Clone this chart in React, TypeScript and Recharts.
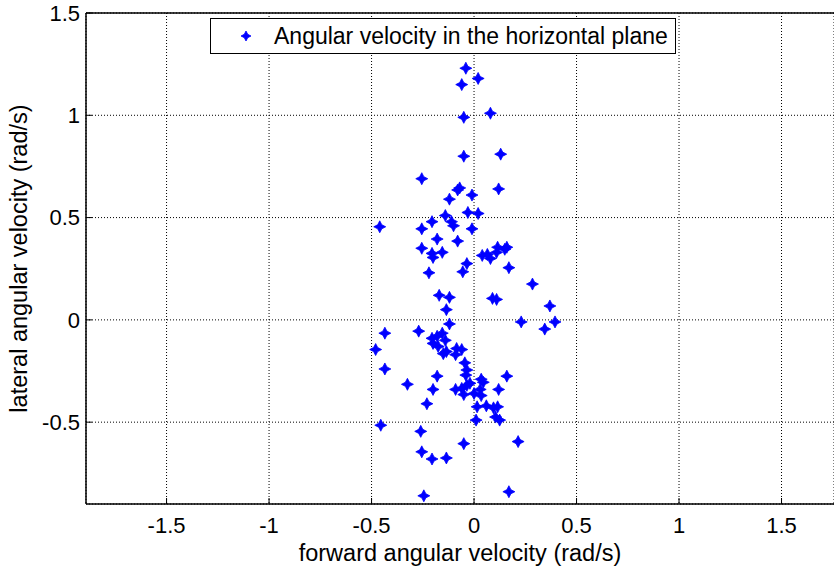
import React from 'react';
import { ScatterChart, Scatter, XAxis, YAxis, CartesianGrid, Legend } from 'recharts';

const seriesName = 'Angular velocity in the horizontal plane';

// forward angular velocity (rad/s)
const forwardVel = [
  -0.04, 0.02, -0.06, 0.08, -0.05, -0.05, 0.13, -0.255, -0.07, -0.08,
  -0.12, -0.01, 0.12, -0.03, 0.02, -0.14, -0.11, -0.205, -0.46, -0.255,
  -0.1, -0.01, -0.18, -0.08, -0.255, -0.205, -0.2, -0.155, -0.035, -0.055,
  -0.22, 0.04, 0.065, 0.08, 0.115, 0.16, 0.11, 0.15, 0.17, 0.285,
  -0.17, -0.12, 0.09, 0.11, 0.37, -0.135, 0.23, 0.395, 0.345, -0.12,
  -0.435, -0.27, -0.48, -0.205, -0.18, -0.155, -0.14, -0.2, -0.175, -0.135,
  -0.15, -0.085, -0.06, -0.09, -0.045, -0.035, -0.04, -0.435, -0.18, -0.325,
  -0.2, -0.23, -0.09, -0.06, -0.05, -0.035, 0.035, 0.045, 0.0, 0.03,
  0.035, 0.16, 0.12, 0.015, 0.06, 0.095, 0.115, 0.105, 0.125, 0.01,
  -0.455, -0.26, -0.05, 0.215, -0.255, -0.205, -0.135, -0.245, 0.17, -0.02,
];

// lateral angular velocity (rad/s)
const lateralVel = [
  1.23, 1.18, 1.15, 1.01, 0.99, 0.8, 0.81, 0.69, 0.645, 0.635,
  0.59, 0.61, 0.64, 0.525, 0.52, 0.51, 0.48, 0.48, 0.455, 0.445,
  0.46, 0.445, 0.395, 0.385, 0.35, 0.325, 0.305, 0.33, 0.275, 0.235,
  0.23, 0.315, 0.32, 0.3, 0.355, 0.355, 0.33, 0.345, 0.255, 0.175,
  0.12, 0.11, 0.105, 0.1, 0.068, 0.05, -0.01, -0.01, -0.045, -0.02,
  -0.065, -0.055, -0.145, -0.09, -0.08, -0.065, -0.1, -0.115, -0.13, -0.155,
  -0.165, -0.14, -0.145, -0.17, -0.21, -0.245, -0.27, -0.24, -0.275, -0.315,
  -0.34, -0.41, -0.34, -0.335, -0.365, -0.32, -0.29, -0.305, -0.36, -0.34,
  -0.37, -0.275, -0.34, -0.425, -0.42, -0.43, -0.425, -0.475, -0.49, -0.49,
  -0.515, -0.545, -0.605, -0.595, -0.645, -0.68, -0.675, -0.86, -0.84, -0.31,
];

const xTicks = [-1.5, -1, -0.5, 0, 0.5, 1, 1.5];
const yTicks = [-0.5, 0, 0.5, 1, 1.5];
const xDomain = [-1.893, 1.756];
const yDomain = [-0.9, 1.5];

const points = forwardVel.map((x, i) => ({ x, y: lateralVel[i] }));

const font = '"Liberation Sans", Arial, sans-serif';
const blue = '#0000ff';

function Star({ cx, cy, r = 6 }: { cx: number; cy: number; r?: number }) {
  if (cx == null || cy == null) return null;
  const k = r * 0.34;
  const d = `M${cx},${cy - r} L${cx + k},${cy - k} L${cx + r},${cy} L${cx + k},${cy + k} L${cx},${cy + r} L${cx - k},${cy + k} L${cx - r},${cy} L${cx - k},${cy - k} Z`;
  return <path d={d} fill={blue} stroke={blue} strokeWidth={0.8} strokeLinejoin="round" />;
}

function LegendBox(props: any) {
  const label = props?.payload?.[0]?.value ?? seriesName;
  return (
    <div
      style={{
        boxSizing: 'border-box',
        width: 466,
        height: 36,
        border: '1.5px solid #000',
        background: '#fff',
        display: 'flex',
        alignItems: 'center',
        fontFamily: font,
        fontSize: 23,
        color: '#000',
        whiteSpace: 'nowrap',
      }}
    >
      <svg width={20} height={20} style={{ marginLeft: 25, marginRight: 18 }}>
        <Star cx={10} cy={10} r={5} />
      </svg>
      <span>{label}</span>
    </div>
  );
}

export default function App() {
  return (
    <div style={{ position: 'absolute', left: 0, top: 0, width: 834, height: 568, background: '#fff' }}>
      <ScatterChart width={834} height={568} margin={{ top: 12, right: 0, bottom: 0, left: 0 }}>
        <CartesianGrid stroke="#000" strokeDasharray="1 2" strokeWidth={1} />
        <XAxis
          type="number"
          dataKey="x"
          domain={xDomain}
          ticks={xTicks}
          allowDataOverflow
          height={64}
          tickSize={-6}
          tickMargin={19}
          axisLine={{ stroke: '#000', strokeWidth: 1.5 }}
          tickLine={{ stroke: '#000' }}
          tick={{ fill: '#000', fontSize: 22, fontFamily: font }}
          label={{
            value: 'forward angular velocity (rad/s)',
            position: 'insideBottom',
            offset: 7,
            style: { fill: '#000', fontSize: 23.5, fontFamily: font },
          }}
        />
        <XAxis
          xAxisId="top"
          orientation="top"
          type="number"
          domain={xDomain}
          ticks={xTicks}
          allowDataOverflow
          height={1}
          tickSize={-6}
          tick={false}
          axisLine={{ stroke: '#000', strokeWidth: 1.5 }}
          tickLine={{ stroke: '#000' }}
        />
        <YAxis
          type="number"
          dataKey="y"
          domain={yDomain}
          ticks={yTicks}
          allowDataOverflow
          width={86}
          tickSize={-6}
          tickMargin={12}
          axisLine={{ stroke: '#000', strokeWidth: 1.5 }}
          tickLine={{ stroke: '#000' }}
          tick={{ fill: '#000', fontSize: 22, fontFamily: font }}
          label={{
            value: 'lateral angular velocity (rad/s)',
            angle: -90,
            position: 'insideLeft',
            offset: 19,
            style: { fill: '#000', fontSize: 23.5, fontFamily: font, textAnchor: 'middle' },
          }}
        />
        <Legend
          layout="horizontal"
          verticalAlign="middle"
          align="center"
          wrapperStyle={{ left: 210, top: 18, width: 466, height: 36 }}
          content={LegendBox}
        />
        <Scatter
          name={seriesName}
          data={points}
          fill={blue}
          isAnimationActive={false}
          shape={(p: any) => <Star cx={p.cx} cy={p.cy} />}
        />
      </ScatterChart>
    </div>
  );
}
